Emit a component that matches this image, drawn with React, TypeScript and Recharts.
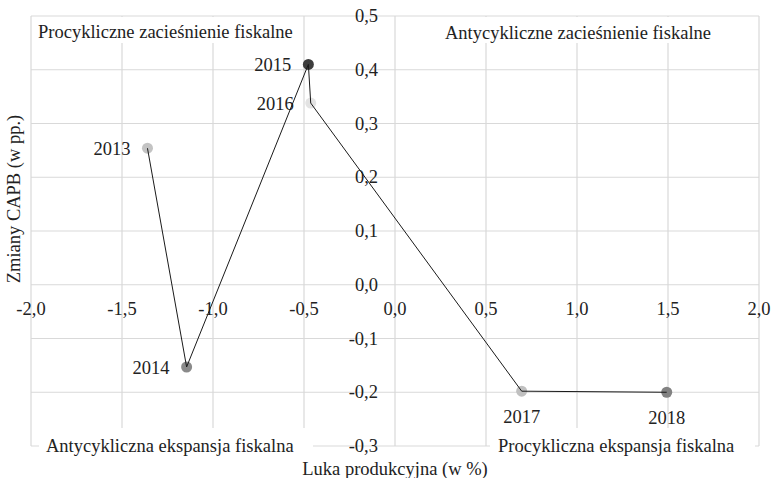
import React from "react";
import { ScatterChart, Scatter, XAxis, YAxis, CartesianGrid, ReferenceDot, Cell } from "recharts";

const years = ["2013", "2014", "2015", "2016", "2017", "2018"];
const outputGap = [-1.36, -1.145, -0.476, -0.463, 0.696, 1.493];
const capbChange = [0.254, -0.153, 0.41, 0.338, -0.198, -0.2];
const xTicks = [-2, -1.5, -1, -0.5, 0, 0.5, 1, 1.5, 2];
const yTicks = [-0.3, -0.2, -0.1, 0, 0.1, 0.2, 0.3, 0.4, 0.5];

const dotColors = ["#c3c3c3", "#8a8a8a", "#3d3d3d", "#e3e3e3", "#c0c0c0", "#828282"];
const labelBelow = ["2017", "2018"];

const points = years.map((year, i) => ({ year, x: outputGap[i], y: capbChange[i] }));

const FONT = "'Liberation Serif'";
const FS = 18.5;
const TXT = "#222";
const GRID = "#d9d9d9";
const textStyle = { fontFamily: FONT, fontSize: FS };

const fmt = (v: number) => v.toFixed(1).replace(".", ",");

const center = (props: any) => {
  const vb = props.viewBox || {};
  return { cx: vb.x + (vb.width || 0) / 2, cy: vb.y + (vb.height || 0) / 2 };
};

const Dot = (props: any) => {
  const { cx, cy, fill, payload } = props;
  const below = labelBelow.includes(payload.year);
  return (
    <g>
      <circle cx={cx} cy={cy} r={5.5} fill={fill} />
      <text
        x={below ? cx : cx - 17}
        y={below ? cy + 26 : cy + 1}
        textAnchor={below ? "middle" : "end"}
        dominantBaseline="central"
        style={textStyle}
        fill={TXT}
      >
        {payload.year}
      </text>
    </g>
  );
};

const Corner = (text: string, box: [number, number, number, number], tx: number, ty: number, anchor: string) =>
  (props: any) => {
    const { cx, cy } = center(props);
    return (
      <g>
        <rect x={cx + box[0]} y={cy + box[1]} width={box[2]} height={box[3]} fill="#fff" />
        <text x={cx + tx} y={cy + ty} textAnchor={anchor} dominantBaseline="central" style={textStyle} fill={TXT}>
          {text}
        </text>
      </g>
    );
  };

const NoTick = () => <g />;

export default function App() {
  return (
    <div style={{ position: "absolute", left: 0, top: 0, fontFamily: FONT }}>
      <ScatterChart width={771} height={478} margin={{ top: 16, right: 12, bottom: 0, left: 0 }}>
        <CartesianGrid stroke={GRID} strokeWidth={1.2} />
        <XAxis
          type="number"
          dataKey="x"
          domain={[-2, 2]}
          ticks={xTicks}
          height={32}
          tick={NoTick}
          axisLine={false}
          tickLine={false}
          allowDataOverflow
          label={(p: any) => {
            const vb = p.viewBox;
            return (
              <text x={vb.x + vb.width / 2} y={vb.y + 23} textAnchor="middle" dominantBaseline="central" style={textStyle} fill={TXT}>
                Luka produkcyjna (w %)
              </text>
            );
          }}
        />
        <YAxis
          type="number"
          dataKey="y"
          domain={[-0.3, 0.5]}
          ticks={yTicks}
          width={31}
          tick={NoTick}
          axisLine={false}
          tickLine={false}
          allowDataOverflow
          label={(p: any) => {
            const vb = p.viewBox;
            const x = vb.x + 14;
            const y = vb.y + vb.height / 2 - 32;
            return (
              <text x={x} y={y} transform={`rotate(-90 ${x} ${y})`} textAnchor="middle" dominantBaseline="central" style={textStyle} fill={TXT}>
                Zmiany CAPB (w pp.)
              </text>
            );
          }}
        />
        {xTicks.map((t) => (
          <ReferenceDot
            key={"x" + t}
            x={t}
            y={0}
            r={0}
            fill="none"
            stroke="none"
            ifOverflow="visible"
            label={(p: any) => {
              const { cx, cy } = center(p);
              return (
                <text x={cx} y={cy + 24} textAnchor="middle" dominantBaseline="central" style={textStyle} fill={TXT}>
                  {fmt(t)}
                </text>
              );
            }}
          />
        ))}
        {yTicks.map((t) => (
          <ReferenceDot
            key={"y" + t}
            x={0}
            y={t}
            r={0}
            fill="none"
            stroke="none"
            ifOverflow="visible"
            label={(p: any) => {
              const { cx, cy } = center(p);
              return (
                <text x={cx - 17} y={cy} textAnchor="end" dominantBaseline="central" style={textStyle} fill={TXT}>
                  {fmt(t)}
                </text>
              );
            }}
          />
        ))}
        <ReferenceDot x={-2} y={0.5} r={0} fill="none" stroke="none" ifOverflow="visible"
          label={Corner("Procykliczne zacieśnienie fiskalne", [1, 1, 269, 26], 7, 16, "start")} />
        <ReferenceDot x={2} y={0.5} r={0} fill="none" stroke="none" ifOverflow="visible"
          label={Corner("Antycykliczne zacieśnienie fiskalne", [-319, 1, 276, 26], -181, 17, "middle")} />
        <ReferenceDot x={-2} y={-0.3} r={0} fill="none" stroke="none" ifOverflow="visible"
          label={Corner("Antycykliczna ekspansja fiskalna", [8, -18, 274, 30], 15, 0, "start")} />
        <ReferenceDot x={2} y={-0.3} r={0} fill="none" stroke="none" ifOverflow="visible"
          label={Corner("Procykliczna ekspansja fiskalna", [-269, -18, 265, 30], -261, 0, "start")} />
        <Scatter data={points} shape={Dot} isAnimationActive={false}>
          {points.map((p, i) => (
            <Cell key={p.year} fill={dotColors[i]} />
          ))}
        </Scatter>
        <Scatter
          data={points}
          shape={() => <g />}
          line={{ stroke: "#1a1a1a", strokeWidth: 1 }}
          lineType="joint"
          isAnimationActive={false}
        />
      </ScatterChart>
    </div>
  );
}
